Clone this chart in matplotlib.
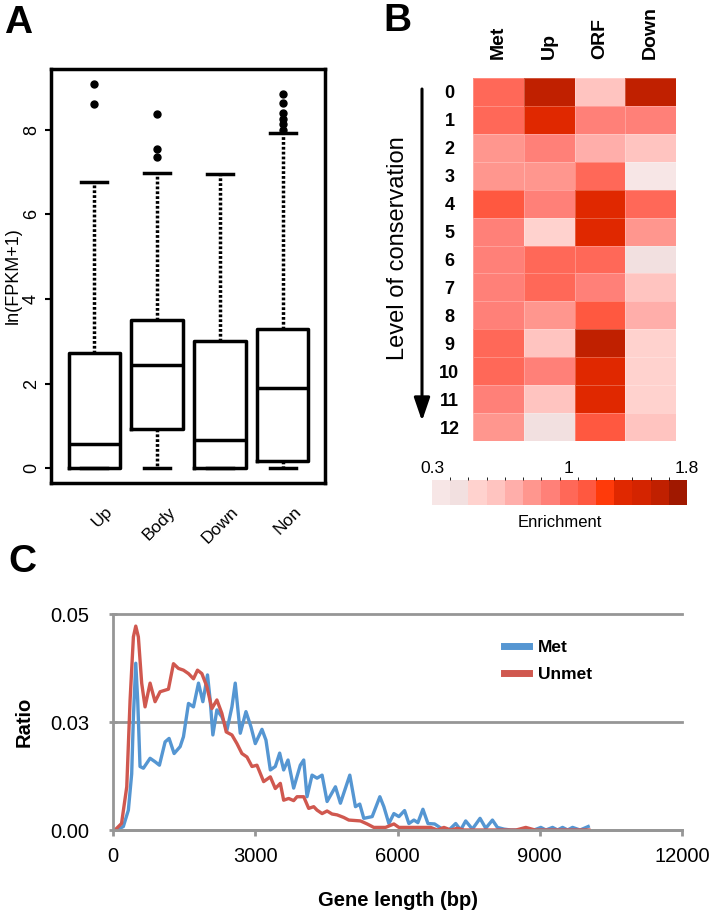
import numpy as np
import matplotlib
matplotlib.use("Agg")
import matplotlib.pyplot as plt
from matplotlib.colors import ListedColormap, BoundaryNorm
from matplotlib.transforms import ScaledTranslation

plt.rcParams['font.family'] = ['Liberation Sans', 'DejaVu Sans']

# ---------------- data ----------------
# panel A: box stats
regions = ["Up", "Body", "Down", "Non"]
whis_lo = [0.0, 0.0, 0.0, 0.0]
q1s = [0.0, 0.92, 0.0, 0.17]
medians = [0.56, 2.44, 0.66, 1.90]
q3s = [2.73, 3.50, 3.00, 3.29]
whis_hi = [6.76, 6.97, 6.95, 7.92]
outliers = [[8.60, 9.07],
            [7.36, 7.54, 8.37],
            [],
            [8.00, 8.13, 8.25, 8.39, 8.63, 8.84]]

# panel B: enrichment per conservation level
hm_cols = ["Met", "Up", "ORF", "Down"]
hm_rows = [str(i) for i in range(13)]
enrichment = [
    [1.00, 1.65, 0.65, 1.65],
    [1.00, 1.37, 0.92, 0.92],
    [0.85, 0.92, 0.75, 0.65],
    [0.85, 0.85, 1.00, 0.35],
    [1.10, 0.92, 1.37, 1.00],
    [0.92, 0.55, 1.37, 0.85],
    [0.92, 1.00, 1.00, 0.45],
    [0.92, 1.00, 0.92, 0.65],
    [0.92, 0.85, 1.10, 0.75],
    [1.00, 0.65, 1.65, 0.55],
    [1.00, 0.92, 1.37, 0.55],
    [0.92, 0.65, 1.37, 0.55],
    [0.85, 0.45, 1.10, 0.65],
]
cbar_bounds = [0.3, 0.4, 0.5, 0.6, 0.7, 0.8, 0.9, 0.95, 1.05, 1.15, 1.3, 1.45, 1.6, 1.7, 1.8]
cbar_colors = ["#f7e6e6", "#f2e0e0", "#ffd2ce", "#ffc4c0", "#ffaeaa", "#ff968e", "#ff8078",
               "#ff6858", "#ff5840", "#ff3a0a", "#e02800", "#d42400", "#c02000", "#a01800"]

# panel C: gene length distributions
met_x = [78, 218, 324, 394, 430, 480, 521, 570, 641, 782, 887, 979, 1099, 1183, 1289, 1416,
         1486, 1592, 1697, 1803, 1895, 1993, 2050, 2106, 2191, 2296, 2402, 2508, 2578, 2684,
         2804, 2909, 3001, 3142, 3226, 3318, 3423, 3515, 3599, 3691, 3810, 3950, 4022, 4092,
         4198, 4303, 4410, 4515, 4691, 4796, 4994, 5113, 5204, 5289, 5466, 5628, 5712, 5818,
         5924, 6029, 6149, 6240, 6346, 6430, 6536, 6642, 6783, 6945, 7086, 7227, 7332, 7438,
         7579, 7741, 7861, 8002, 8107, 8248, 8389, 8881, 9023, 9129, 9270, 9375, 9481, 9587,
         9692, 9850, 10022]
met_y = [0, 0.0008, 0.0046, 0.013, 0.026, 0.0386, 0.030, 0.0147, 0.0143, 0.0166, 0.0158,
         0.015, 0.0204, 0.0212, 0.0177, 0.0193, 0.0216, 0.0293, 0.0285, 0.034, 0.0297, 0.0359,
         0.030, 0.022, 0.0278, 0.0262, 0.0231, 0.0285, 0.034, 0.0224, 0.0274, 0.0239, 0.020,
         0.0233, 0.0208, 0.0139, 0.0147, 0.0178, 0.0139, 0.0162, 0.0097, 0.0150, 0.0162,
         0.0077, 0.0127, 0.012, 0.0127, 0.0066, 0.010, 0.0062, 0.0127, 0.0054, 0.006, 0.0027,
         0.0031, 0.0077, 0.0054, 0.0015, 0.0038, 0.0031, 0.0045, 0.0015, 0.0023, 0.0017,
         0.0048, 0.0015, 0.0014, 0.0002, 0, 0.0015, 0, 0.0021, 0.0002, 0.0027, 0.0004, 0.0023,
         0.0006, 0.0002, 0, 0, 0.0006, 0, 0.0006, 0, 0.0006, 0, 0.0006, 0, 0.0008]
unmet_x = [42, 180, 290, 360, 430, 480, 535, 605, 676, 782, 887, 993, 1169, 1275, 1380, 1486,
           1592, 1697, 1782, 1874, 1980, 2085, 2191, 2296, 2388, 2508, 2614, 2719, 2825, 2931,
           3036, 3177, 3318, 3423, 3529, 3599, 3705, 3810, 3881, 4022, 4127, 4233, 4303, 4410,
           4515, 4620, 4726, 4867, 4973, 5219, 5360, 5500, 5748, 5924, 6029, 6698, 6839, 6980,
           7121, 7262, 7400, 8500, 8706, 8900, 10037]
unmet_y = [0, 0.0015, 0.010, 0.030, 0.0447, 0.0472, 0.0447, 0.034, 0.0285, 0.034, 0.0297,
           0.032, 0.0326, 0.0385, 0.0374, 0.037, 0.0362, 0.035, 0.037, 0.0362, 0.0332, 0.0281,
           0.0301, 0.027, 0.0227, 0.022, 0.020, 0.0177, 0.0169, 0.0147, 0.015, 0.0112, 0.0123,
           0.0096, 0.0108, 0.0069, 0.0073, 0.0068, 0.0077, 0.0077, 0.005, 0.0054, 0.0046,
           0.0038, 0.0044, 0.0037, 0.0035, 0.0029, 0.0023, 0.0021, 0.0014, 0.0006, 0.0006,
           0.0014, 0.0006, 0.0006, 0, 0.0006, 0, 0.0004, 0, 0, 0.0006, 0, 0]

W, H = 717, 917
fig = plt.figure(figsize=(W / 100, H / 100), dpi=100)

def box(l, t, r, b):
    # pixel box (top-left origin) -> figure fraction rect
    return [l / W, 1 - b / H, (r - l) / W, (b - t) / H]

# ---------------- panel A ----------------
axA = fig.add_axes(box(51, 69, 325, 483))
stats = []
for i in range(4):
    stats.append(dict(label=regions[i], whislo=whis_lo[i], q1=q1s[i], med=medians[i],
                      q3=q3s[i], whishi=whis_hi[i], fliers=outliers[i]))
lw = 2.5
axA.bxp(stats, positions=[1, 2, 3, 4], widths=0.81,
        boxprops=dict(lw=lw, color='black'),
        whiskerprops=dict(lw=lw, color='black', ls=(0, (0.8, 0.6))),
        capprops=dict(lw=lw, color='black'),
        medianprops=dict(lw=lw, color='black'),
        flierprops=dict(marker='o', mfc='black', mec='black', ms=5))
axA.set_xlim(0.317, 4.667)
axA.set_ylim(-0.35, 9.43)
axA.set_yticks([0, 2, 4, 6, 8])
axA.set_yticklabels(['0', '2', '4', '6', '8'], rotation=90, va='center', fontsize=13)
axA.tick_params(axis='y', length=4, width=1.5, pad=4)
axA.tick_params(axis='x', length=0, pad=19, labelsize=12.5)
for lab in axA.get_xticklabels():
    lab.set_rotation(45)
    lab.set_rotation_mode('anchor')
    lab.set_ha('right')
    lab.set_va('center')
    lab.set_transform(lab.get_transform() + ScaledTranslation(0.16, 0, fig.dpi_scale_trans))
for s in axA.spines.values():
    s.set_linewidth(2.5)
axA.set_ylabel('ln(FPKM+1)', fontsize=13, labelpad=1)

# ---------------- panel B ----------------
cmap = ListedColormap(cbar_colors)
norm = BoundaryNorm(cbar_bounds, cmap.N)
axB = fig.add_axes(box(473, 78, 676, 441))
mesh = axB.pcolormesh(np.array(enrichment), cmap=cmap, norm=norm,
                      edgecolors=(1, 1, 1, 0.25), linewidth=0.6)
axB.set_ylim(len(hm_rows), 0)
axB.set_xlim(0, len(hm_cols))
for s in axB.spines.values():
    s.set_visible(False)
axB.xaxis.tick_top()
axB.set_xticks(np.arange(len(hm_cols)) + 0.5)
axB.set_xticklabels(hm_cols, rotation=90, fontsize=14, fontweight='bold', va='bottom')
axB.set_yticks(np.arange(len(hm_rows)) + 0.5)
axB.set_yticklabels(hm_rows, fontsize=13, fontweight='bold', ha='center')
axB.tick_params(axis='x', length=0, pad=14)
axB.tick_params(axis='y', length=0, pad=17)

cax = fig.add_axes(box(432, 480, 687, 505))
cb = fig.colorbar(mesh, cax=cax, orientation='horizontal', ticks=[0.3, 1.0, 1.8],
                  spacing='uniform')
cb.outline.set_visible(False)
cax.xaxis.set_ticks_position('top')
cb.set_ticklabels(['0.3', '1', '1.8'])
cax.tick_params(length=0, labelsize=12.5, pad=3)
cax.set_xlabel('Enrichment', fontsize=12, labelpad=7)
cax.xaxis.set_label_position('bottom')

fig.text(398 / W, 1 - 248 / H, 'Level of conservation', rotation=90, fontsize=17,
         ha='center', va='center')
axB.annotate('', xy=(422 / W, 1 - 421 / H), xytext=(422 / W, 1 - 89 / H),
             xycoords='figure fraction', textcoords='figure fraction',
             arrowprops=dict(arrowstyle='-|>,head_length=0.7,head_width=0.24',
                             mutation_scale=20, lw=2.2, color='black',
                             shrinkA=0, shrinkB=0))

# ---------------- panel C ----------------
gray = '#969696'
axC = fig.add_axes(box(113, 614, 682, 830))
axC.plot(met_x, met_y, color='#5596d2', lw=2.4, label='Met')
axC.plot(unmet_x, unmet_y, color='#d0584f', lw=2.4, label='Unmet')
axC.set_xlim(0, 12000)
axC.set_ylim(0, 0.05)
axC.set_xticks([0, 3000, 6000, 9000, 12000])
axC.set_yticks([0, 0.025, 0.05])
axC.set_yticklabels(['0.00', '0.03', '0.05'])
axC.yaxis.grid(True, color=gray, lw=2.0)
axC.set_axisbelow(True)
for gl in axC.get_ygridlines():
    gl.set_clip_on(False)
for side in ['top', 'right']:
    axC.spines[side].set_visible(False)
for side in ['left', 'bottom']:
    axC.spines[side].set_color(gray)
    axC.spines[side].set_linewidth(2.0)
axC.tick_params(axis='x', direction='out', length=4.5, width=2, color=gray,
                labelsize=14.5, pad=8)
axC.tick_params(axis='y', direction='inout', length=6, width=2, color=gray,
                labelsize=14.5, pad=14)
axC.set_xlabel('Gene length (bp)', fontsize=14.5, fontweight='bold', labelpad=18)
axC.set_ylabel('Ratio', fontsize=14.5, fontweight='bold', labelpad=12)
leg = axC.legend(loc='upper left', bbox_to_anchor=(0.672, 0.92), frameon=False,
                 borderpad=0, handlelength=1.45, handletextpad=0.5, labelspacing=0.7,
                 prop=dict(size=12.5, weight='bold'))
for h in leg.legend_handles:
    h.set_linewidth(5)

# panel letters
fig.text(4 / W, 1 - 5 / H, 'A', fontsize=28, fontweight='bold', va='top')
fig.text(383 / W, 1 - 3 / H, 'B', fontsize=28, fontweight='bold', va='top')
fig.text(8 / W, 1 - 544 / H, 'C', fontsize=28, fontweight='bold', va='top')

fig.savefig('out.png', dpi=100)
